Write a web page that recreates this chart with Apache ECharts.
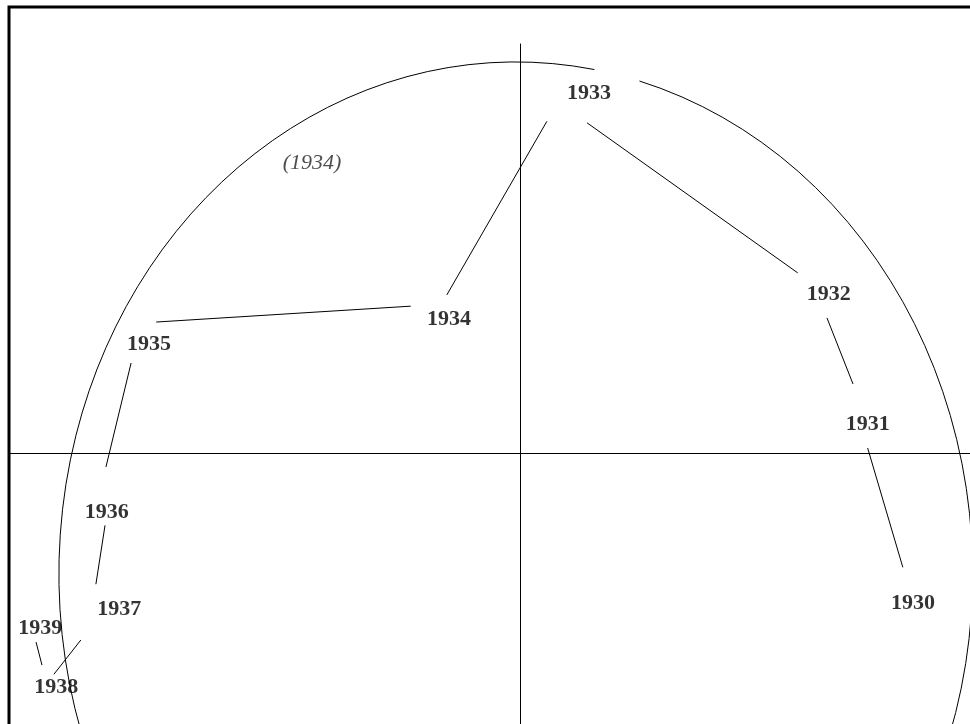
<!DOCTYPE html>
<html>
<head>
<meta charset="utf-8">
<script src="https://cdn.jsdelivr.net/npm/echarts@6/dist/echarts.min.js"></script>
<style>
  html, body { margin: 0; padding: 0; background: #fff; }
  #chart { width: 970px; height: 724px; }
</style>
</head>
<body>
<div id="chart"></div>
<script>
// years and where each label sits (units: circle radius = 1)
const years = ['1930', '1931', '1932', '1933', '1934', '1935', '1936', '1937', '1938', '1939']
const yearX = [0.860, 0.761, 0.676, 0.151, -0.155, -0.812, -0.904, -0.877, -1.015, -1.050]
const yearY = [-0.293, 0.057, 0.311, 0.703, 0.262, 0.213, -0.115, -0.305, -0.457, -0.342]

// connecting strokes between consecutive years (start x, start y, end x, end y)
const segFromX = [0.838, 0.729, 0.608, 0.059, -0.239, -0.851, -0.908, -0.961, -1.046]
const segFromY = [-0.223, 0.135, 0.352, 0.648, 0.287, 0.176, -0.141, -0.365, -0.414]
const segToX = [0.761, 0.672, 0.147, -0.160, -0.796, -0.906, -0.928, -1.020, -1.059]
const segToY = [0.010, 0.264, 0.645, 0.309, 0.256, -0.027, -0.256, -0.432, -0.369]

// the annotation in brackets
const noteText = ['(1934)']
const noteX = [-0.455]
const noteY = [0.566]

// reference circle: centre and radius
const circleCentre = [-0.009, -0.236]
const circleRadius = [1]

const log = console.log.bind(console)

let myChart = echarts.init(document.getElementById('chart'))

const axisStyle = {
    show: true,
    onZero: true,
    lineStyle: { color: '#000', width: 1 }
}

const labelFont = {
    color: '#000',
    fontFamily: '"Liberation Serif", "Times New Roman", serif',
    fontSize: 22
}

// the circle is open where the 1933 label breaks it (angles in degrees, screen)
const gapStart = -80.1
const gapEnd = -74.3

myChart.setOption({
    animation: false,
    backgroundColor: '#fff',
    grid: { left: 10, right: 0, top: 44, bottom: 0 },
    xAxis: {
        type: 'value',
        min: -1.116,
        max: 0.985,
        axisLine: axisStyle,
        axisTick: { show: false },
        axisLabel: { show: false },
        splitLine: { show: false }
    },
    yAxis: {
        type: 'value',
        min: -0.529,
        max: 0.799,
        axisLine: axisStyle,
        axisTick: { show: false },
        axisLabel: { show: false },
        splitLine: { show: false }
    },
    graphic: [{
        // frame, only the top and left edges are in view
        type: 'rect',
        silent: true,
        shape: { x: 9, y: 7, width: 1200, height: 1200 },
        style: { fill: 'none', stroke: '#000', lineWidth: 3 }
    }],
    series: [
        {
            type: 'custom',
            silent: true,
            clip: false,
            data: [[circleCentre[0], circleCentre[1], circleRadius[0]]],
            renderItem: function (params, api) {
                const c = api.coord([api.value(0), api.value(1)])
                const s = api.size([api.value(2), api.value(2)])
                const a1 = gapEnd * Math.PI / 180
                const a2 = gapStart * Math.PI / 180
                const x1 = c[0] + s[0] * Math.cos(a1), y1 = c[1] + s[1] * Math.sin(a1)
                const x2 = c[0] + s[0] * Math.cos(a2), y2 = c[1] + s[1] * Math.sin(a2)
                return {
                    type: 'path',
                    shape: {
                        pathData: 'M' + x1 + ' ' + y1 + ' A' + s[0] + ' ' + s[1] + ' 0 1 1 ' + x2 + ' ' + y2
                    },
                    style: { fill: 'none', stroke: '#000', lineWidth: 1 }
                }
            }
        },
        {
            type: 'lines',
            coordinateSystem: 'cartesian2d',
            silent: true,
            lineStyle: { color: '#000', width: 1, opacity: 1 },
            data: segFromX.map((x, i) => ({
                coords: [[x, segFromY[i]], [segToX[i], segToY[i]]]
            }))
        },
        {
            type: 'scatter',
            silent: true,
            symbolSize: 0,
            data: years.map((y, i) => ({ name: y, value: [yearX[i], yearY[i]] })),
            label: Object.assign({
                show: true,
                position: 'inside',
                formatter: '{b}',
                fontWeight: 'bold'
            }, labelFont)
        },
        {
            type: 'scatter',
            silent: true,
            symbolSize: 0,
            data: noteText.map((t, i) => ({ name: t, value: [noteX[i], noteY[i]] })),
            label: Object.assign({
                show: true,
                position: 'inside',
                formatter: '{b}',
                fontStyle: 'italic',
                fontWeight: 'normal'
            }, labelFont, { color: '#222' })
        }
    ]
})
log('rendered')
</script>
</body>
</html>
